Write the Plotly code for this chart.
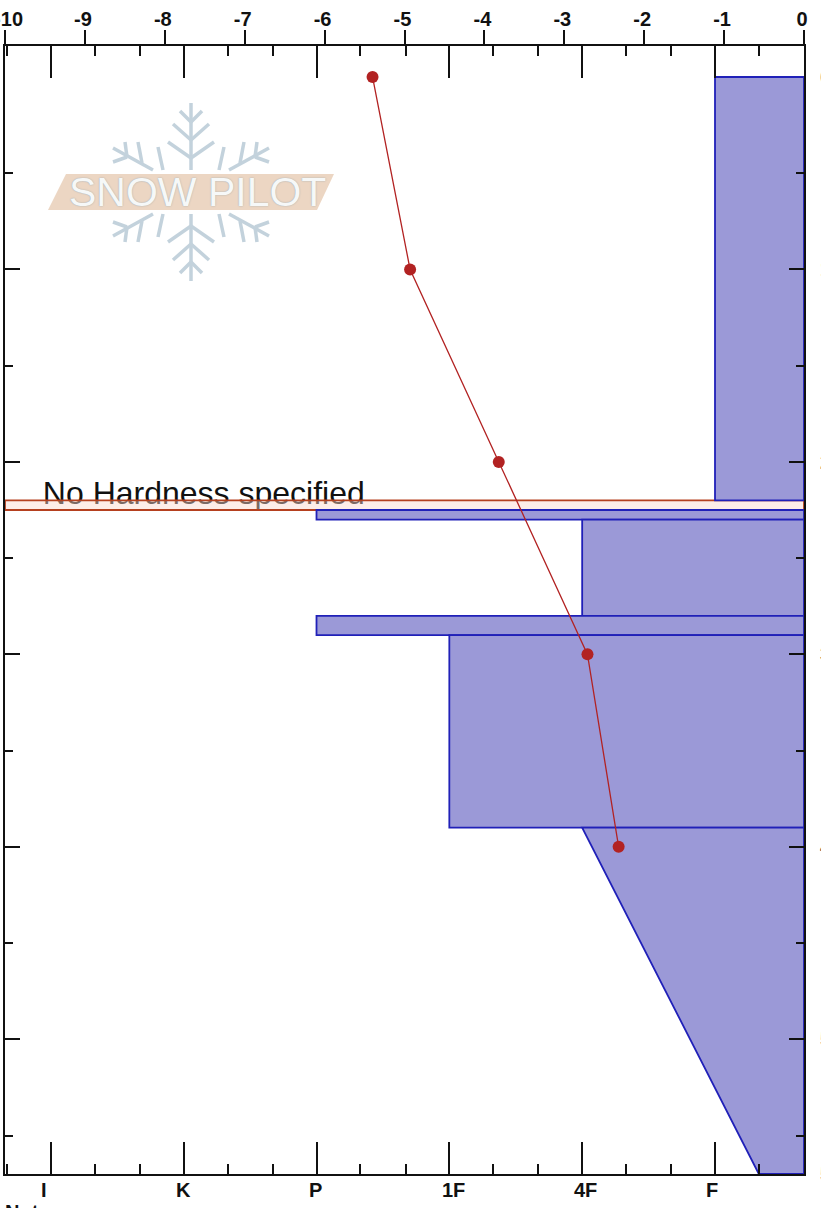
import plotly.graph_objects as go

# --- Data ---
layer_tops = [0, 22.5, 23, 28, 29, 39]
layer_bottoms = [22, 23, 28, 29, 39, 57]
layer_top_hardness = [1, 4, 2, 4, 3, 2]
layer_bottom_hardness = [1, 4, 2, 4, 3, 0.67]
unknown_top = 22
unknown_bottom = 22.5
unknown_label = "No Hardness specified"

temp_depths = [0, 10, 20, 30, 40]
temp_values = [-5.4, -4.93, -3.82, -2.71, -2.32]

hardness_labels = ["I", "K", "P", "1F", "4F", "F"]
hardness_ticks = [6, 5, 4, 3, 2, 1]
hardness_minor = [6.33, 5.67, 5.33, 4.67, 4.33, 3.67, 3.33, 2.67, 2.33, 1.67, 1.33, 0.67]
temp_ticks = [-10, -9, -8, -7, -6, -5, -4, -3, -2, -1, 0]
temp_labels = ["\u00a0\u00a0-10", "-9", "-8", "-7", "-6", "-5", "-4", "-3", "-2", "-1", "0"]
depth_major = [10, 20, 30, 40, 50]
depth_minor = [5, 15, 25, 35, 45, 55]
depth_label_ticks = [0, 10, 20, 30, 40, 50, 57]
footer_text = "Notes"
logo_text = "SNOW PILOT"

# --- Style ---
W, H = 821, 1208
L, R, T, B = 5, 804, 46, 1174
X_RANGE = [6.345, 0.33]
Y_RANGE = [57, -1.61]
BLUE = "#2020b8"
FILL = "#9b99d7"
RUST = "#b5401f"
RED = "#b22222"
INK = "#111111"
ICE = "#c3d2dc"
label_shift = [-7, 0, -1, 4, 3, -3]


def px(x):
    return (x - L) / (R - L)


def py(y):
    return (B - y) / (B - T)


fig = go.Figure()

fig.add_trace(go.Scatter(
    x=[6.06], y=[unknown_top - 0.22], mode="text", text=[unknown_label],
    textposition="middle right", textfont=dict(family="Liberation Sans", size=32, color=INK),
    xaxis="x", yaxis="y", showlegend=False, hoverinfo="skip"))

fig.add_trace(go.Scatter(
    x=[X_RANGE[0], X_RANGE[1], X_RANGE[1], X_RANGE[0], X_RANGE[0]],
    y=[unknown_top, unknown_top, unknown_bottom, unknown_bottom, unknown_top],
    mode="lines", fill="toself", fillcolor="rgba(250,215,205,0.45)",
    line=dict(color=RUST, width=1.8), xaxis="x", yaxis="y", showlegend=False))

for top, bot, ht, hb in zip(layer_tops, layer_bottoms, layer_top_hardness, layer_bottom_hardness):
    fig.add_trace(go.Scatter(
        x=[X_RANGE[1], ht, hb, X_RANGE[1], X_RANGE[1]],
        y=[top, top, bot, bot, top],
        mode="lines", fill="toself", fillcolor=FILL,
        line=dict(color=BLUE, width=1.8), xaxis="x", yaxis="y", showlegend=False))

fig.add_trace(go.Scatter(
    x=temp_values, y=temp_depths, mode="lines+markers",
    line=dict(color=RED, width=1.3), marker=dict(color=RED, size=12),
    xaxis="x2", yaxis="y2", showlegend=False))

# Logo (decoration, page pixels)
shapes = []
shapes.append(dict(
    type="path", xref="paper", yref="paper", layer="below", line=dict(width=0), fillcolor="#ecd6c3",
    path="M {} {} L {} {} L {} {} L {} {} Z".format(
        px(48), py(210), px(66), py(174), px(334), py(174), px(317), py(210))))
seg_up = [((191, 103), (191, 170)), ((191, 122), (180, 111)), ((191, 122), (202, 111)),
          ((191, 140), (173, 124)), ((191, 140), (209, 124)),
          ((191, 158), (168, 142)), ((191, 158), (214, 142))]
seg_side = [((153, 170), (113, 148)), ((142, 163), (138, 142)), ((127, 157), (125, 142)),
            ((127, 157), (113, 162)), ((163, 170), (158, 147))]
segs = list(seg_up)
segs += [((a, 384 - b), (c, 384 - d)) for (a, b), (c, d) in seg_up]
for (a, b), (c, d) in seg_side:
    segs.append(((a, b), (c, d)))
    segs.append(((382 - a, b), (382 - c, d)))
    segs.append(((a, 384 - b), (c, 384 - d)))
    segs.append(((382 - a, 384 - b), (382 - c, 384 - d)))
for (a, b), (c, d) in segs:
    shapes.append(dict(type="line", xref="paper", yref="paper", layer="below",
                       x0=px(a), y0=py(b), x1=px(c), y1=py(d),
                       line=dict(color=ICE, width=3.5)))

annotations = [dict(
    x=px(197), y=py(192), xref="paper", yref="paper", text=logo_text, showarrow=False,
    font=dict(family="Liberation Sans", size=41, color="#f6f8f8",
              shadow="0 0 1.5px #8fa0aa"),
    xanchor="center", yanchor="middle")]
for lab, val, shift in zip(hardness_labels, hardness_ticks, label_shift):
    annotations.append(dict(
        x=val, y=0, xref="x", yref="paper", text="<b>%s</b>" % lab, showarrow=False,
        xshift=shift, yshift=-3, xanchor="center", yanchor="top",
        font=dict(family="Liberation Sans", size=20, color=INK)))
annotations.append(dict(
    x=0, y=py(1199), xref="paper", yref="paper", text="<b>%s</b>" % footer_text, showarrow=False,
    xanchor="left", yanchor="top", xshift=-2,
    font=dict(family="Liberation Sans", size=20, color=INK)))

axis_line = dict(showline=True, linecolor=INK, linewidth=2, showgrid=False, zeroline=False)

fig.update_layout(
    width=W, height=H, autosize=False,
    margin=dict(l=L, r=W - R, t=T, b=H - B, pad=0, autoexpand=False),
    paper_bgcolor="white", plot_bgcolor="white", showlegend=False,
    shapes=shapes, annotations=annotations,
    xaxis=dict(range=X_RANGE, domain=[0, 1], anchor="y", side="bottom", mirror="ticks",
               tickmode="array", tickvals=hardness_ticks, ticks="inside", ticklen=32,
               tickwidth=1.5, tickcolor=INK, showticklabels=False,
               minor=dict(tickmode="array", tickvals=hardness_minor, ticks="inside", ticklen=10,
                          tickwidth=1.5, tickcolor=INK, showgrid=False),
               **axis_line),
    yaxis=dict(range=Y_RANGE, domain=[0, 1], anchor="x", side="left", mirror="ticks",
               tickmode="array", tickvals=depth_major, ticks="inside", ticklen=15,
               tickwidth=1.5, tickcolor=INK, showticklabels=False,
               minor=dict(tickmode="array", tickvals=depth_minor, ticks="inside", ticklen=8,
                          tickwidth=1.5, tickcolor=INK, showgrid=False),
               **axis_line),
    xaxis2=dict(range=[-10, 0], overlaying="x", anchor="y2", side="top",
                tickmode="array", tickvals=temp_ticks, ticktext=temp_labels,
                ticks="outside", ticklen=15, tickwidth=1.5, tickcolor=INK,
                ticklabelshift=-2, ticklabelstandoff=-4, ticklabeloverflow="allow",
                tickfont=dict(family="Liberation Sans", size=20, color=INK, weight="bold"),
                showline=False, showgrid=False, zeroline=False),
    yaxis2=dict(range=Y_RANGE, overlaying="y", anchor="x2", side="right",
                tickmode="array", tickvals=depth_label_ticks,
                ticks="", ticklabelstandoff=15, ticklabeloverflow="allow",
                tickfont=dict(family="Liberation Sans", size=20, color="#555555", weight="bold"),
                showline=False, showgrid=False, zeroline=False),
)

fig.write_html("out.html", post_script="document.body.style.margin='0';",
               config={"displayModeBar": False})
